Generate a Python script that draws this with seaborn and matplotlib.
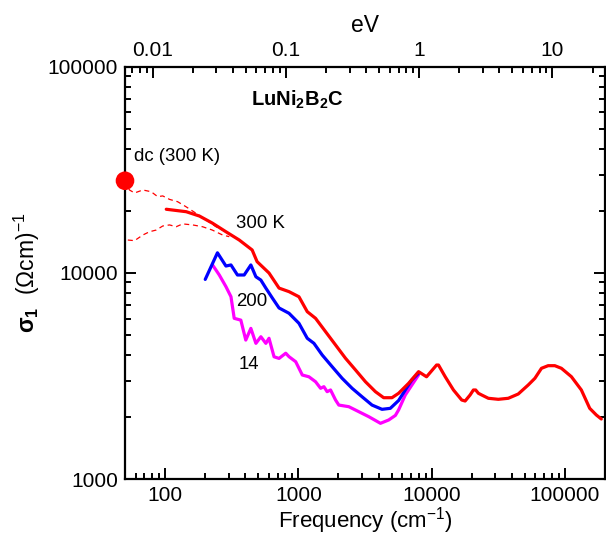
import numpy as np
import pandas as pd
import matplotlib
matplotlib.use("Agg")
import matplotlib.pyplot as plt
import matplotlib.ticker as mticker
import seaborn as sns

# ---- data ----
freq_300 = [102, 144, 181, 226, 286, 360, 450, 490, 602, 716, 851, 1010, 1166, 1346, 1600,
            1901, 2259, 2684, 3187, 3787, 4366, 5040, 5653, 6716, 7980, 9160, 10890, 11260,
            12640, 14580, 16820, 17840, 19440, 20580, 21410, 22430, 23740, 26650, 31650,
            37600, 44670, 53060, 59560, 66730, 74880, 84030, 94160, 111900, 132900, 153600,
            172100, 187600]
sig_300 = [20370, 19820, 18880, 17460, 15850, 14450, 12930, 11350, 10000, 8450, 8120, 7670,
           6494, 6030, 5194, 4478, 3859, 3388, 2971, 2659, 2486, 2486, 2612, 2919, 3325, 3140,
           3580, 3580, 3143, 2710, 2423, 2396, 2563, 2710, 2710, 2612, 2563, 2470, 2442, 2470,
           2591, 2865, 3087, 3452, 3554, 3554, 3452, 3143, 2710, 2208, 2050, 1960]

freq_200 = [200, 247, 286, 312, 349, 392, 440, 480, 523, 570, 638, 716, 851, 1010, 1166,
            1308, 1510, 1793, 2130, 2531, 3006, 3570, 4242, 4898, 5653, 6345, 7110, 7980]
sig_200 = [9310, 12530, 10810, 10940, 9780, 9780, 10940, 9590, 9240, 8450, 7560, 6770, 6378,
           5704, 4826, 4563, 4004, 3513, 3087, 2761, 2512, 2290, 2184, 2208, 2410, 2710, 3030,
           3266]

freq_14 = [227, 255, 286, 312, 330, 370, 403, 440, 480, 523, 570, 602, 657, 716, 804, 851,
           955, 1070, 1200, 1346, 1468, 1554, 1644, 1744, 1901, 2012, 2390, 2840, 3373, 4130,
           4765, 5345, 5653, 6345, 7110, 7980]
sig_14 = [10940, 9780, 8590, 7680, 6030, 5910, 4730, 5390, 4560, 4910, 4560, 4825, 3925,
          3855, 4085, 3929, 3715, 3203, 3140, 2971, 2761, 2812, 2659, 2710, 2423, 2290, 2249,
          2127, 2012, 1868, 1939, 2040, 2170, 2563, 2865, 3207]

freq_dash_hi = [50, 54, 59, 68, 78.5, 88, 96, 108, 124, 143.5, 171, 203, 241, 286]
sig_dash_hi = [27900, 25260, 24430, 25260, 24780, 23440, 23640, 22740, 22170, 20950, 19460,
               18070, 16760, 15850]
freq_dash_lo = [52.5, 59, 68, 76.4, 85.7, 96, 108, 121, 135.5, 161, 191, 226, 270, 303]
sig_dash_lo = [14450, 14350, 15280, 15850, 16150, 16900, 17100, 16760, 17300, 17100, 16760,
               16150, 15280, 15000]

dc_freq = [50]
dc_sigma = [28000]

x_ticks = [100, 1000, 10000, 100000]
y_ticks = [1000, 10000, 100000]
ev_ticks = [0.01, 0.1, 1, 10]
CM_PER_EV = 8065.54

sns.set_theme(style="ticks")
plt.rcParams['font.family'] = ['Liberation Sans', 'DejaVu Sans']
plt.rcParams['mathtext.fontset'] = 'custom'
plt.rcParams['mathtext.rm'] = 'Liberation Sans'
plt.rcParams['mathtext.it'] = 'Liberation Sans:italic'
plt.rcParams['mathtext.bf'] = 'Liberation Sans:bold'
for k in ['text.color', 'axes.labelcolor', 'xtick.color', 'ytick.color', 'axes.edgecolor']:
    plt.rcParams[k] = 'black'

fig = plt.figure(figsize=(6.06, 5.35), dpi=100)
ax = fig.add_axes([125/606, 1-479.3/535, 480/606, (479.3-66.7)/535])

lw = 2.3
sns.lineplot(x=freq_14, y=sig_14, ax=ax, color="#ff00ff", lw=lw, sort=False, estimator=None, zorder=3)
sns.lineplot(x=freq_200, y=sig_200, ax=ax, color="#0000ff", lw=lw, sort=False, estimator=None, zorder=4)
sns.lineplot(x=freq_300, y=sig_300, ax=ax, color="#ff0000", lw=lw, sort=False, estimator=None, zorder=5)
sns.lineplot(x=freq_dash_hi, y=sig_dash_hi, ax=ax, color="#ff0000", lw=0.9, sort=False,
             estimator=None, linestyle=(0, (4, 3)))
sns.lineplot(x=freq_dash_lo, y=sig_dash_lo, ax=ax, color="#ff0000", lw=0.9, sort=False,
             estimator=None, linestyle=(0, (4, 3)))
sns.scatterplot(x=dc_freq, y=dc_sigma, ax=ax, color="#ff0000", s=180, edgecolor="none",
                zorder=6, clip_on=False)

ax.set_xscale("log")
ax.set_yscale("log")
ax.set_xlim(50, 200000)
ax.set_ylim(1000, 100000)

fmt = mticker.FuncFormatter(lambda v, p: f"{v:g}" if v < 1 else f"{int(round(v))}")
ax.xaxis.set_major_locator(mticker.FixedLocator(x_ticks))
ax.yaxis.set_major_locator(mticker.FixedLocator(y_ticks))
ax.xaxis.set_major_formatter(fmt)
ax.yaxis.set_major_formatter(fmt)
ax.xaxis.set_minor_locator(mticker.LogLocator(base=10, subs=np.arange(2, 10)))
ax.yaxis.set_minor_locator(mticker.LogLocator(base=10, subs=np.arange(2, 10)))
ax.yaxis.set_minor_formatter(mticker.NullFormatter())
ax.xaxis.set_minor_formatter(mticker.NullFormatter())

ax.tick_params(which="both", direction="in", width=1.4, labelsize=15, colors="black",
               right=True, top=False)
ax.tick_params(which="major", length=8, pad=5)
ax.tick_params(which="minor", length=4.5)
for s in ax.spines.values():
    s.set_linewidth(1.6)
    s.set_color("black")

sec = ax.secondary_xaxis("top", functions=(lambda x: x / CM_PER_EV, lambda e: e * CM_PER_EV))
sec.set_xscale("log")
sec.xaxis.set_major_locator(mticker.FixedLocator(ev_ticks))
sec.xaxis.set_major_formatter(fmt)
sec.xaxis.set_minor_locator(mticker.LogLocator(base=10, subs=np.arange(2, 10)))
sec.xaxis.set_minor_formatter(mticker.NullFormatter())
sec.tick_params(which="both", direction="in", width=1.4, labelsize=15, colors="black")
sec.tick_params(which="major", length=8, pad=5)
sec.tick_params(which="minor", length=4.5)
sec.set_xlabel("eV", fontsize=16.5, labelpad=6)

ax.set_xlabel("Frequency (cm$^{-1}$)", fontsize=16, labelpad=0)
ax.set_ylabel(r"$\mathbf{\sigma}_{\mathbf{1}}$  ($\Omega$cm)$^{-1}$", fontsize=16.5, labelpad=4)

ax.text(442, 69300, r"LuNi$_\mathbf{2}$B$_\mathbf{2}$C", fontsize=14.5, fontweight="bold",
        ha="left", va="center")
ax.text(58.9, 36700, "dc (300 K)", fontsize=13.4, ha="left", va="center")
ax.text(340, 17380, "300 K", fontsize=13.4, ha="left", va="center")
ax.text(341, 7235, "200", fontsize=13.4, ha="left", va="center")
ax.text(359, 3583, "14", fontsize=13.4, ha="left", va="center")

fig.savefig("out.png", dpi=100)
